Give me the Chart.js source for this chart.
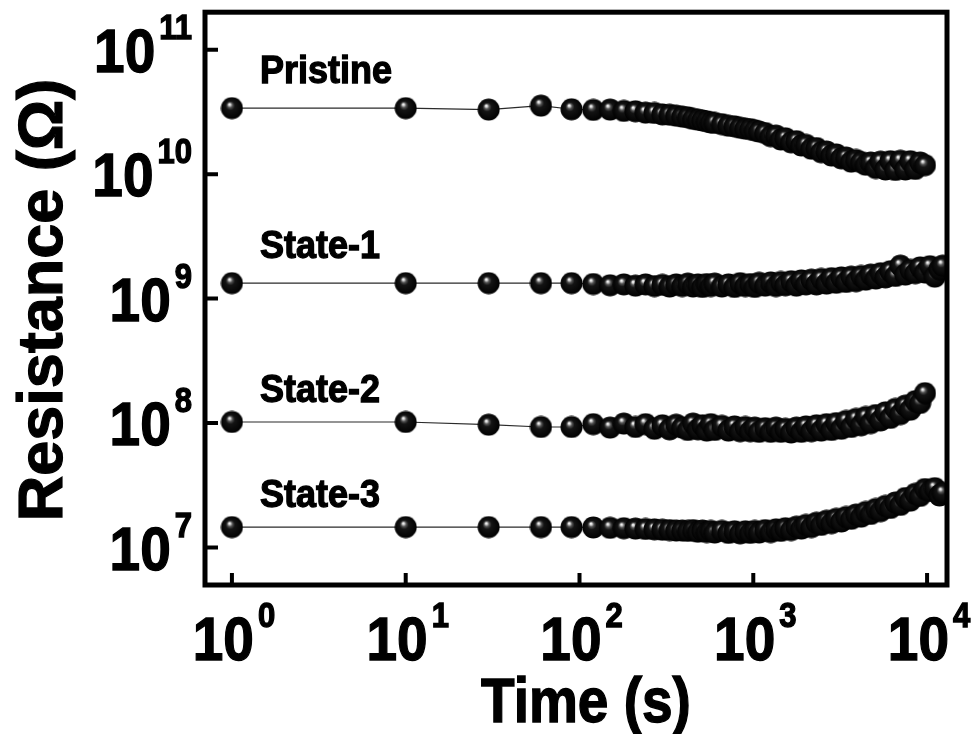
<!DOCTYPE html>
<html>
<head>
<meta charset="utf-8">
<script src="https://cdn.jsdelivr.net/npm/chart.js@4.4.0/dist/chart.umd.min.js"></script>
<style>
  html, body { margin: 0; padding: 0; background: #fff; }
  canvas { display: block; }
</style>
</head>
<body>
<canvas id="retention" width="974" height="734"></canvas>
<script>
// Retention test: resistance of each state read over time (log-log)

const timeS = [
  1, 10, 30, 60, 90,
  120, 150, 180, 210, 240, 270, 300, 330,
  360, 390, 420, 450, 480, 510, 540, 570,
  600, 660, 720, 780, 840, 900, 960, 1020, 1080,
  1170, 1260, 1350, 1440, 1530, 1650, 1770, 1890, 2010,
  2160, 2310, 2460, 2640, 2820, 3000, 3210, 3420, 3660, 3900,
  4170, 4440, 4740, 5070, 5400, 5760, 6150, 6570,
  7020, 7500, 8010, 8550, 9120, 9720,
  10380, 11070, 11790, 12300
];

const pristine = [
  3.39e10, 3.39e10, 3.3e10, 3.55e10, 3.32e10,
  3.28e10, 3.3e10, 3.22e10, 3.2e10, 3.12e10, 3.1e10, 3.02e10, 3.0e10,
  2.95e10, 2.9e10, 2.86e10, 2.78e10, 2.74e10, 2.7e10, 2.66e10, 2.6e10,
  2.58e10, 2.52e10, 2.45e10, 2.42e10, 2.36e10, 2.32e10, 2.3e10, 2.25e10, 2.2e10,
  2.14e10, 2.02e10, 2.04e10, 1.9e10, 1.94e10, 1.8e10, 1.84e10, 1.7e10, 1.72e10,
  1.6e10, 1.62e10, 1.5e10, 1.52e10, 1.41e10, 1.44e10, 1.34e10, 1.36e10, 1.26e10, 1.3e10,
  1.25e10, 1.19e10, 1.24e10, 1.12e10, 1.26e10, 1.09e10, 1.27e10, 1.08e10,
  1.28e10, 1.09e10, 1.27e10, 1.1e10, 1.24e10, 1.18e10,
  null, null, null, null
];

const state1 = [
  1.33e9, 1.33e9, 1.33e9, 1.33e9, 1.33e9,
  1.31e9, 1.28e9, 1.3e9, 1.27e9, 1.3e9, 1.26e9, 1.29e9, 1.25e9,
  1.3e9, 1.26e9, 1.32e9, 1.25e9, 1.3e9, 1.24e9, 1.31e9, 1.26e9,
  1.32e9, 1.25e9, 1.3e9, 1.24e9, 1.33e9, 1.26e9, 1.31e9, 1.24e9, 1.34e9,
  1.27e9, 1.35e9, 1.26e9, 1.36e9, 1.28e9, 1.38e9, 1.27e9, 1.4e9, 1.3e9,
  1.42e9, 1.3e9, 1.44e9, 1.32e9, 1.46e9, 1.34e9, 1.48e9, 1.36e9, 1.5e9, 1.38e9,
  1.52e9, 1.42e9, 1.56e9, 1.45e9, 1.6e9, 1.48e9, 1.66e9, 1.52e9,
  1.84e9, 1.56e9, 1.7e9, 1.6e9, 1.78e9, 1.62e9,
  1.82e9, 1.5e9, 1.72e9, 1.84e9
];

const state2 = [
  1.02e8, 1.02e8, 9.7e7, 9.3e7, 9.3e7,
  9.8e7, 9.2e7, 9.9e7, 9.3e7, 9.8e7, 9.0e7, 9.6e7, 8.9e7,
  9.7e7, 9.2e7, 8.8e7, 9.9e7, 8.9e7, 9.6e7, 8.7e7, 9.8e7,
  8.8e7, 9.5e7, 8.7e7, 9.4e7, 8.6e7, 9.3e7, 8.6e7, 9.2e7, 8.5e7,
  9.1e7, 8.5e7, 9.2e7, 8.5e7, 9.0e7, 8.4e7, 9.2e7, 8.5e7, 9.4e7,
  8.6e7, 9.6e7, 8.7e7, 9.8e7, 8.8e7, 1.0e8, 9.0e7, 1.04e8, 9.3e7, 1.08e8,
  9.6e7, 1.12e8, 1.0e8, 1.16e8, 1.05e8, 1.22e8, 1.1e8, 1.3e8,
  1.18e8, 1.38e8, 1.28e8, 1.5e8, 1.45e8, 1.74e8,
  null, null, null, null
];

const state3 = [
  1.46e7, 1.46e7, 1.46e7, 1.46e7, 1.46e7,
  1.45e7, 1.44e7, 1.43e7, 1.42e7, 1.41e7, 1.4e7, 1.39e7, 1.38e7,
  1.37e7, 1.37e7, 1.36e7, 1.38e7, 1.34e7, 1.37e7, 1.33e7, 1.36e7,
  1.32e7, 1.36e7, 1.31e7, 1.35e7, 1.3e7, 1.35e7, 1.31e7, 1.36e7, 1.32e7,
  1.38e7, 1.33e7, 1.4e7, 1.36e7, 1.43e7, 1.38e7, 1.47e7, 1.42e7, 1.52e7,
  1.46e7, 1.58e7, 1.52e7, 1.64e7, 1.57e7, 1.7e7, 1.62e7, 1.76e7, 1.7e7, 1.84e7,
  1.77e7, 1.93e7, 1.86e7, 2.04e7, 1.96e7, 2.16e7, 2.08e7, 2.3e7,
  2.2e7, 2.5e7, 2.38e7, 2.7e7, 2.6e7, 2.95e7,
  2.85e7, 3.0e7, 2.62e7, 2.75e7
];

const seriesNames = ['Pristine', 'State-1', 'State-2', 'State-3'];
const seriesValues = [pristine, state1, state2, state3];
// where each series name sits (data coordinates, text baseline)
const nameAtTime = 1.45;
const nameAtR = [5.4e10, 2.1e9, 1.48e8, 2.1e7];

const xExps = [0, 1, 2, 3, 4];
const yExps = [7, 8, 9, 10, 11];

const FONT = '"Liberation Sans", Arial, Helvetica, sans-serif';

// shaded black ball used as the marker
function makeBall(d) {
  const c = document.createElement('canvas');
  c.width = d; c.height = d;
  const g = c.getContext('2d');
  const r = d / 2;
  const grad = g.createRadialGradient(r * 0.78, r * 0.66, 0.3, r, r, r);
  grad.addColorStop(0, '#ffffff');
  grad.addColorStop(0.08, '#d0d0d0');
  grad.addColorStop(0.2, '#555555');
  grad.addColorStop(0.38, '#141414');
  grad.addColorStop(1, '#000000');
  g.fillStyle = grad;
  g.beginPath();
  g.arc(r, r, r - 0.5, 0, Math.PI * 2);
  g.fill();
  return c;
}
const ball = makeBall(23);

function text(ctx, str, x, y, size, align, sy) {
  ctx.save();
  ctx.translate(x, y);
  ctx.scale(1, sy);
  ctx.font = 'bold ' + size + 'px ' + FONT;
  ctx.textAlign = align;
  ctx.textBaseline = 'alphabetic';
  ctx.fillText(str, 0, 0);
  // a hairline outline thickens the strokes a little
  ctx.lineWidth = 1.2;
  ctx.strokeStyle = '#000';
  ctx.strokeText(str, 0, 0);
  ctx.restore();
}

// "10" with a raised exponent; anchor is 'right' or 'center'
function powLabel(ctx, exp, x, baseY, anchor) {
  ctx.font = 'bold 55px ' + FONT;
  const mw = ctx.measureText('10').width;
  ctx.font = 'bold 31px ' + FONT;
  const sw = ctx.measureText(String(exp)).width;
  const total = mw + 4 + sw;
  const left = anchor === 'right' ? x - total : x - total / 2;
  text(ctx, '10', left, baseY, 55, 'left', 1.12);
  text(ctx, String(exp), left + mw + 4, baseY - 33, 31, 'left', 1.15);
}

const framePlugin = {
  id: 'frame',
  afterDraw(chart) {
    const ctx = chart.ctx;
    const a = chart.chartArea;
    const xs = chart.scales.x;
    const ys = chart.scales.y;
    ctx.save();
    ctx.fillStyle = '#000';
    ctx.strokeStyle = '#000';

    // box
    ctx.lineWidth = 5;
    ctx.lineJoin = 'miter';
    ctx.strokeRect(a.left, a.top, a.right - a.left, a.bottom - a.top);

    // inward ticks at each decade
    ctx.lineWidth = 4;
    ctx.beginPath();
    xExps.forEach(e => {
      const px = xs.getPixelForValue(Math.pow(10, e));
      ctx.moveTo(px, a.bottom);
      ctx.lineTo(px, a.bottom - 12);
    });
    yExps.forEach(e => {
      const py = ys.getPixelForValue(Math.pow(10, e));
      ctx.moveTo(a.left, py);
      ctx.lineTo(a.left + 13, py);
    });
    ctx.stroke();

    // tick labels
    xExps.forEach(e => {
      powLabel(ctx, e, xs.getPixelForValue(Math.pow(10, e)) + 2, 660, 'center');
    });
    yExps.forEach(e => {
      powLabel(ctx, e, 192, ys.getPixelForValue(Math.pow(10, e)) + 22, 'right');
    });

    // axis titles
    text(ctx, 'Time (s)', 586, 722, 55, 'center', 1.13);
    ctx.save();
    ctx.translate(62, 300);
    ctx.rotate(-Math.PI / 2);
    ctx.font = 'bold 63px ' + FONT;
    ctx.textAlign = 'center';
    ctx.textBaseline = 'alphabetic';
    ctx.fillText('Resistance (\u03A9)', 0, 0);
    ctx.lineWidth = 1.2;
    ctx.strokeText('Resistance (\u03A9)', 0, 0);
    ctx.restore();

    // series names
    seriesNames.forEach((name, i) => {
      text(ctx, name, xs.getPixelForValue(nameAtTime), ys.getPixelForValue(nameAtR[i]), 36, 'left', 1.1);
    });
    ctx.restore();
  }
};

const datasets = seriesValues.map((vals, i) => ({
  label: seriesNames[i],
  data: timeS.map((t, j) => ({ x: t, y: vals[j] })).filter(p => p.y !== null),
  showLine: true,
  borderColor: '#2b2b2b',
  borderWidth: 1.2,
  tension: 0,
  pointStyle: ball,
  pointRadius: 11,
  pointHoverRadius: 11
}));

new Chart(document.getElementById('retention'), {
  type: 'scatter',
  data: { datasets: datasets },
  options: {
    responsive: false,
    animation: false,
    devicePixelRatio: 1,
    events: [],
    layout: { padding: { left: 205, right: 27, top: 12, bottom: 149 } },
    plugins: {
      legend: { display: false },
      tooltip: { enabled: false }
    },
    scales: {
      x: { type: 'logarithmic', min: 0.729, max: 13020, display: false },
      y: { type: 'logarithmic', min: 5.0e6, max: 2.0e11, display: false }
    }
  },
  plugins: [framePlugin]
});
</script>
</body>
</html>
